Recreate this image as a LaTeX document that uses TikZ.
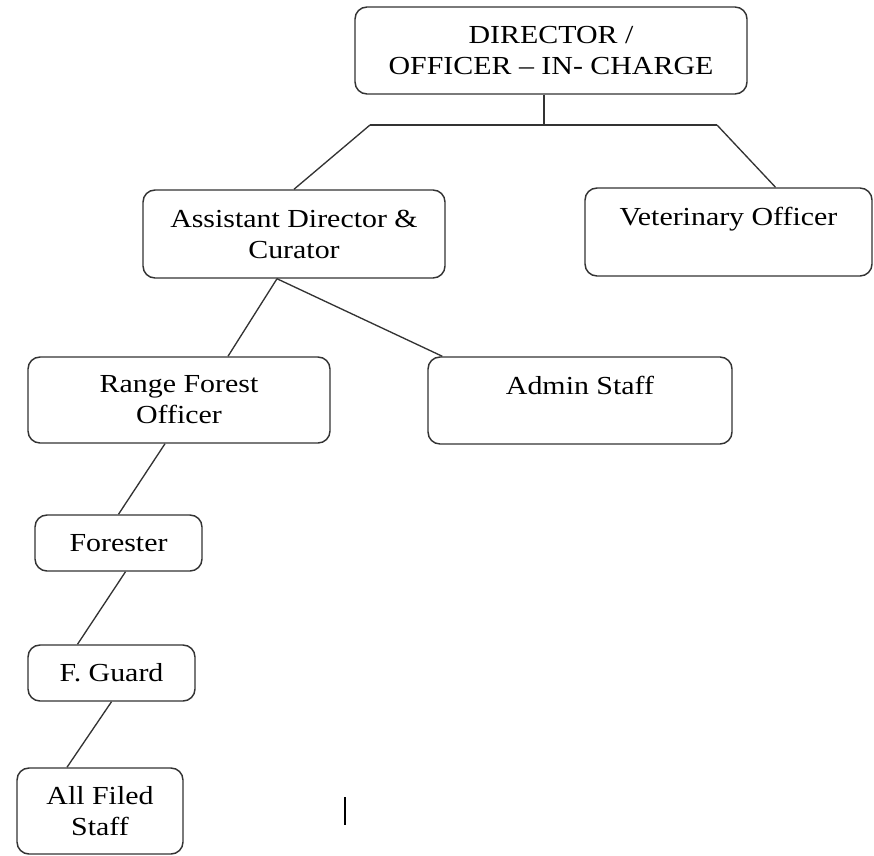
\documentclass[tikz,border=0pt]{standalone}
\usepackage{fontspec}
\setmainfont[FakeStretch=1.15]{Liberation Serif}
\usetikzlibrary{positioning,calc}

\begin{document}
\begin{tikzpicture}[x=0.75pt,y=-0.75pt]
  \tikzstyle{box}=[draw=black!80, line width=1.1pt, rounded corners=9pt, align=center,
inner sep=0pt, font=\fontsize{19.5}{23.25}\selectfont]
  \tikzstyle{link}=[draw=black!80, line width=1pt]
  \path[use as bounding box] (0,0) rectangle (874,856);
  \clip (0,0) rectangle (874,856);

  \node[box, minimum width=294pt, minimum height=65.25pt] (Dir) at (551,50.5) {DIRECTOR /\\OFFICER – IN- CHARGE};
  \node[box, minimum width=226.5pt, minimum height=66pt] (Asst) at (294,234) {Assistant Director \&\\Curator};
  \node[box, minimum width=215.25pt, minimum height=66pt] (Vet) at (728.5,232) {Veterinary Officer\\\mbox{}};
  \node[box, minimum width=226.5pt, minimum height=64.5pt] (Range) at (179,400) {Range Forest\\Officer};
  \node[box, minimum width=228pt, minimum height=65.25pt] (Admin) at (580,400.5) {Admin Staff\\\mbox{}};
  \node[box, minimum width=125.25pt, minimum height=42pt] (Forest) at (118.5,543) {Forester};
  \node[box, minimum width=125.25pt, minimum height=42pt] (Guard) at (111.5,673) {F. Guard};
  \node[box, minimum width=124.5pt, minimum height=64.5pt] (Staff) at (100,811) {All Filed\\Staff};

  \coordinate (Hub) at (544,125);
  \coordinate (HubL) at (370,125);
  \coordinate (HubR) at (717,125);

  \draw[link] ($(Dir.south)+(-7,0)$) -- (Hub);
  \draw[link] (HubL) -- (HubR);
  \draw[link] (HubL) -- (Asst.north);
  \draw[link] (HubR) -- ($(Vet.north)+(47,0)$);
  \draw[link] ($(Asst.south)+(-17,0)$) -- ($(Range.north)+(49,0)$);
  \draw[link] ($(Asst.south)+(-17,0)$) -- ($(Admin.north west)+(15,0)$);
  \draw[link] ($(Range.south)+(-14,0)$) -- (Forest.north);
  \draw[link] ($(Forest.south)+(7,0)$) -- ($(Guard.north)+(-34,0)$);
  \draw[link] (Guard.south) -- ($(Staff.north)+(-33,0)$);

  % cursor mark
  \draw[line width=1.5pt] (345,797) -- (345,825);
\end{tikzpicture}
\end{document}
